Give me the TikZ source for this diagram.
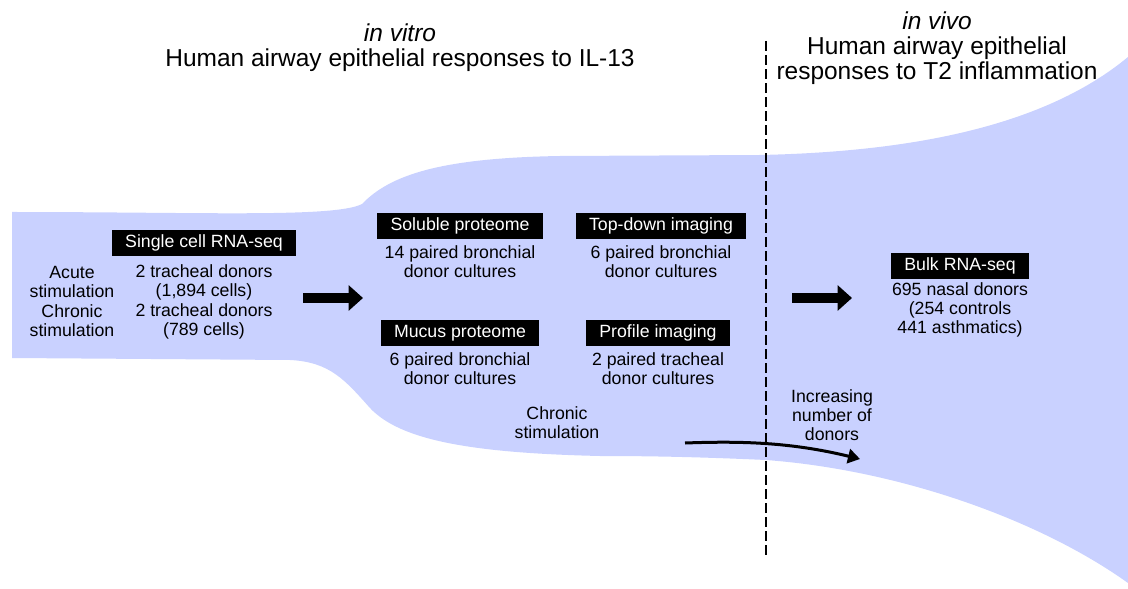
\documentclass[tikz,border=0pt]{standalone}
\usepackage{fontspec}
\setmainfont{Liberation Sans}
\usetikzlibrary{arrows.meta}
\usetikzlibrary{positioning}

\definecolor{airway}{RGB}{201,209,255}
\newcommand\bodyfont{\fontsize{12.6}{13.5}\selectfont}
\newcommand\headfont{\fontsize{17.4}{17.8}\selectfont}

\tikzset{
  assay/.style={fill=black, text=white, font=\bodyfont, minimum height=0.67cm, inner xsep=0.33cm, inner ysep=0pt},
  cohort/.style={align=center, font=\bodyfont, inner sep=0pt},
  heading/.style={align=center, font=\headfont, inner sep=0pt},
  bigarrow/.style={line width=0.25cm, -{Triangle[length=0.36cm, width=0.62cm]}},
  divider/.style={line width=0.05cm, dash pattern=on 0.25cm off 0.1cm},
}

\begin{document}
\begin{tikzpicture}[x=0.025cm, y=-0.025cm]
      \useasboundingbox (0,0) rectangle (1128,589);
      % widening airway
      \fill[airway] (12,212) .. controls (200,212) and (335,218) .. (362,204)
        .. controls (390,175) and (440,158) .. (560,156) -- (760,155)
        .. controls (900,152) and (1040,130) .. (1128,57) -- (1128,583)
        .. controls (1040,520) and (900,470) .. (766,460)
        .. controls (700,457) and (650,456) .. (600,456)
        .. controls (470,453) and (400,440) .. (370,408)
        .. controls (345,380) and (330,362) .. (290,360) -- (12,358) -- cycle;

      % titles
      \node[heading] (vitro) at (400,48) {\textit{in vitro}\\Human airway epithelial responses to IL-13};
      \node[heading] (vivo) at (937,48) {\textit{in vivo}\\Human airway epithelial\\responses to T2 inflammation};

      % single cell
      \node[assay] (scseq) at (204,243) {Single cell RNA-seq};
      \node[cohort] (acute) at (72,282) {Acute\\stimulation};
      \node[cohort] (chron) at (72,321) {Chronic\\stimulation};
      \node[cohort] (scacute) at (204,282) {2 tracheal donors\\(1,894 cells)};
      \node[cohort] (scchron) at (204,321) {2 tracheal donors\\(789 cells)};

      % proteome and imaging
      \node[assay] (soluble) at (460,226) {Soluble proteome};
      \node[cohort] (solubled) at (460,262) {14 paired bronchial\\donor cultures};
      \node[assay] (topdown) at (661,226) {Top-down imaging};
      \node[cohort] (topdownd) at (661,262) {6 paired bronchial\\donor cultures};
      \node[assay] (mucus) at (460,333) {Mucus proteome};
      \node[cohort] (mucusd) at (460,369) {6 paired bronchial\\donor cultures};
      \node[assay] (profile) at (658,333) {Profile imaging};
      \node[cohort] (profiled) at (658,369) {2 paired tracheal\\donor cultures};
      \node[cohort] (chronic) at (557,423) {Chronic\\stimulation};

      % bulk
      \node[assay] (bulk) at (960,266) {Bulk RNA-seq};
      \node[cohort] (bulkd) at (960,310) {695 nasal donors\\(254 controls\\441 asthmatics)};
      \node[cohort] (donors) at (832,415) {Increasing\\number of\\donors};

      \coordinate (divtop) at (766,41);
      \coordinate (divbot) at (766,555);
      \coordinate (go1) at (303,298);
      \coordinate (to1) at (363,298);
      \coordinate (go2) at (792,298);
      \coordinate (to2) at (852,298);
      \coordinate (trend) at (685,443);
      \coordinate (trendend) at (860,459);

      \draw[divider] (divtop) -- (divbot);
      \draw[bigarrow] (go1) -- (to1);
      \draw[bigarrow] (go2) -- (to2);
      \draw[line width=0.075cm, -{Triangle[length=0.3cm, width=0.36cm]}] (trend) .. controls (740,441) and (790,442) .. (trendend);
    \end{tikzpicture}
\end{document}
